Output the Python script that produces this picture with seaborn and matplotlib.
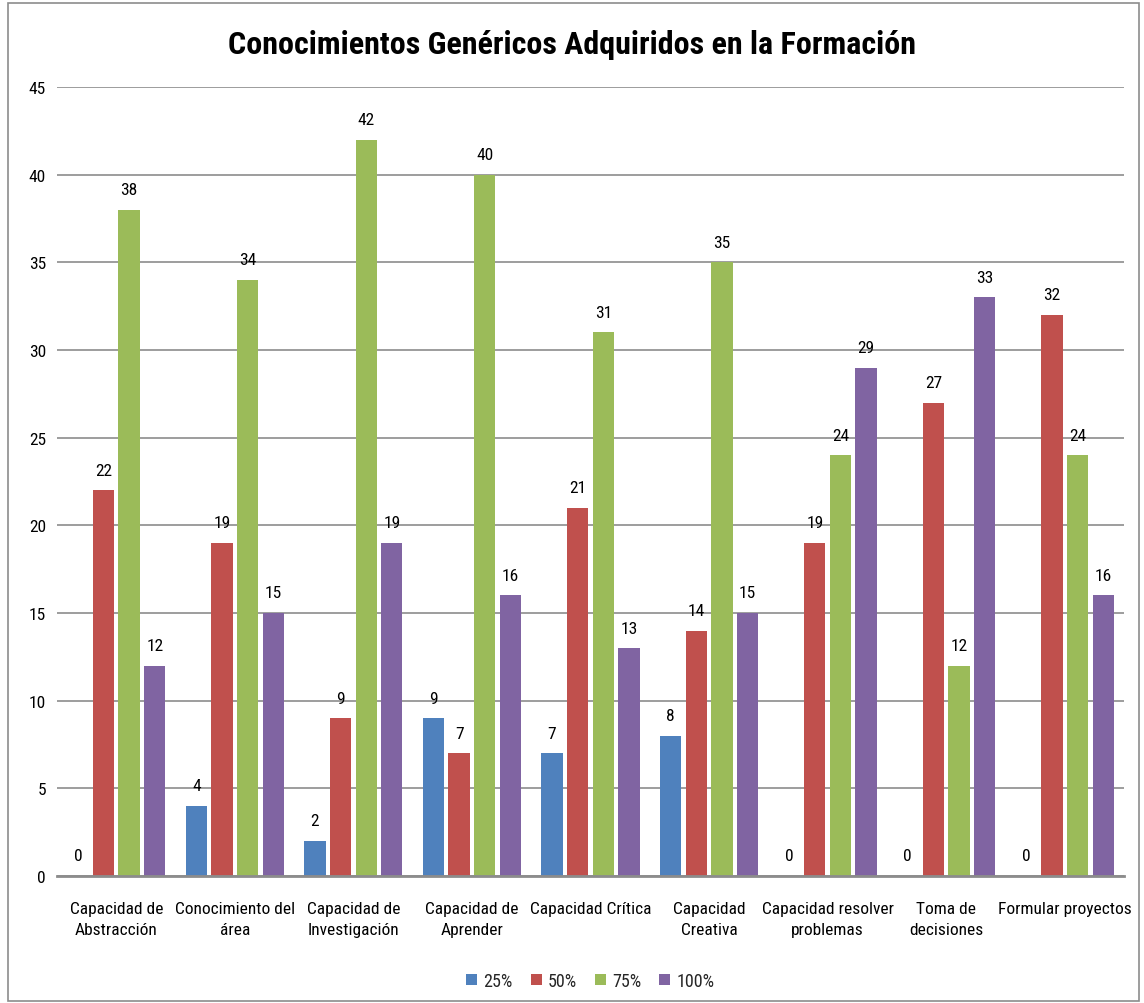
import matplotlib
matplotlib.use("Agg")
import matplotlib.pyplot as plt
import seaborn as sns
import pandas as pd
from matplotlib.patches import Rectangle

categories = [
    "Capacidad de\nAbstracción",
    "Conocimiento del\nárea",
    "Capacidad de\nInvestigación",
    "Capacidad de\nAprender",
    "Capacidad Crítica",
    "Capacidad\nCreativa",
    "Capacidad resolver\nproblemas",
    "Toma de\ndecisiones",
    "Formular proyectos",
]
series_names = ["25%", "50%", "75%", "100%"]
vals_25 = [0, 4, 2, 9, 7, 8, 0, 0, 0]
vals_50 = [22, 19, 9, 7, 21, 14, 19, 27, 32]
vals_75 = [38, 34, 42, 40, 31, 35, 24, 12, 24]
vals_100 = [12, 15, 19, 16, 13, 15, 29, 33, 16]
colors = ["#4F81BD", "#C0504D", "#9BBB59", "#8064A2"]
title = "Conocimientos Genéricos Adquiridos en la Formación"

rows = []
for name, vals in zip(series_names, [vals_25, vals_50, vals_75, vals_100]):
    for cat, v in zip(categories, vals):
        rows.append({"categoria": cat, "serie": name, "valor": v})
df = pd.DataFrame(rows)

sns.set_theme(style="white")
plt.rcParams["font.family"] = ["Roboto Condensed", "PT Sans Narrow", "DejaVu Sans"]

fig = plt.figure(figsize=(11.44, 10.04), dpi=100)
ax = fig.add_axes([57 / 1144, 127 / 1004, (1124 - 57) / 1144, (877 - 88) / 1004])

sns.barplot(data=df, x="categoria", y="valor", hue="serie", order=categories,
            hue_order=series_names, palette=colors, width=0.865, gap=0.17,
            saturation=1, linewidth=0, ax=ax, legend=True)

ax.set_ylim(0, 45)
ax.set_yticks(range(0, 46, 5))
ax.yaxis.grid(True, color="#8c8c8c", linewidth=1.2)
ax.set_axisbelow(True)
for s in ["left", "right", "top"]:
    ax.spines[s].set_visible(False)
ax.spines["bottom"].set_color("#8c8c8c")
ax.spines["bottom"].set_linewidth(2)
ax.set_xlabel("")
ax.set_ylabel("")
ax.tick_params(axis="y", length=0, pad=8, labelsize=12.5)
ax.tick_params(axis="x", length=0, pad=18, labelsize=12.5)
for lab in ax.get_yticklabels() + ax.get_xticklabels():
    lab.set_color("black")
for lab in ax.get_xticklabels():
    lab.set_linespacing(1.5)

for cont in ax.containers:
    ax.bar_label(cont, fmt="%d", padding=9, fontsize=12.5, color="black")

leg = ax.legend(loc="center", bbox_to_anchor=(0.5, -0.133), ncol=4,
                frameon=False, fontsize=13, handlelength=0.6, handleheight=0.6,
                handletextpad=0.35, columnspacing=1.0)

fig.text(0.5, 1 - 45 / 1004, title, ha="center", va="center",
         fontsize=23, fontweight="bold", color="black")

fig.patches.append(Rectangle((8 / 1144, 2 / 1004), 1131 / 1144, 998 / 1004,
                             transform=fig.transFigure, fill=False,
                             edgecolor="#8c8c8c", linewidth=1.2))

fig.savefig("out.png", dpi=100, facecolor="white")
